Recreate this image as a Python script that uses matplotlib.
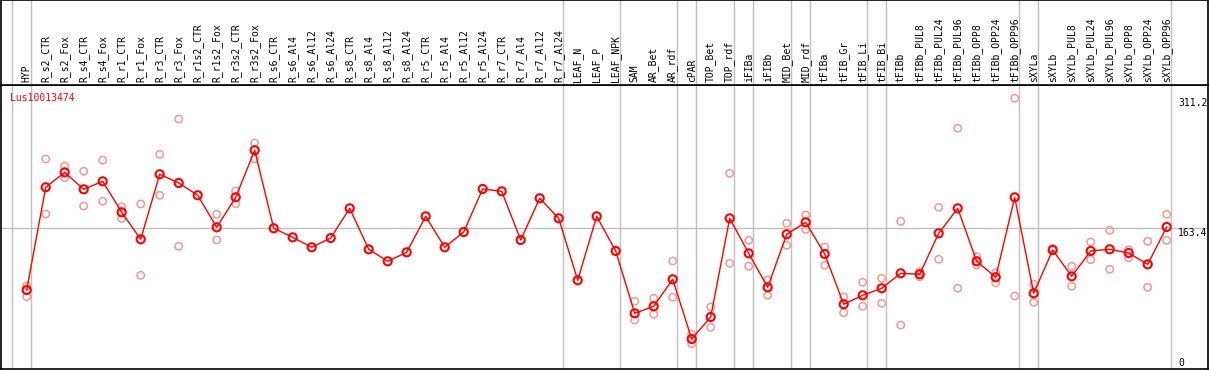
import numpy as np
import matplotlib
matplotlib.use("Agg")
import matplotlib.pyplot as plt
from matplotlib.transforms import blended_transform_factory

gene = "Lus10013474"

samples = ["HYP", "R_s2_CTR", "R_s2_Fox", "R_s4_CTR", "R_s4_Fox", "R_r1_CTR", "R_r1_Fox",
           "R_r3_CTR", "R_r3_Fox", "R_r1s2_CTR", "R_r1s2_Fox", "R_r3s2_CTR", "R_r3s2_Fox",
           "R_s6_CTR", "R_s6_Al4", "R_s6_Al12", "R_s6_Al24", "R_s8_CTR", "R_s8_Al4",
           "R_s8_Al12", "R_s8_Al24", "R_r5_CTR", "R_r5_Al4", "R_r5_Al12", "R_r5_Al24",
           "R_r7_CTR", "R_r7_Al4", "R_r7_Al12", "R_r7_Al24", "LEAF_N", "LEAF_P", "LEAF_NPK",
           "SAM", "AR_Bet", "AR_rdf", "cPAR", "TOP_Bet", "TOP_rdf", "iFIBa", "iFIBb",
           "MID_Bet", "MID_rdf", "tFIBa", "tFIB_Gr", "tFIB_Li", "tFIB_Bi", "tFIBb",
           "tFIBb_PUL8", "tFIBb_PUL24", "tFIBb_PUL96", "tFIBb_OPP8", "tFIBb_OPP24",
           "tFIBb_OPP96", "sXYLa", "sXYLb", "sXYLb_PUL8", "sXYLb_PUL24", "sXYLb_PUL96",
           "sXYLb_OPP8", "sXYLb_OPP24", "sXYLb_OPP96"]

mean_vals = [93.2, 210.0, 227.0, 207.7, 216.8, 181.6, 150.9, 224.8, 214.9, 200.9,
             164.5, 198.6, 252.1, 163.4, 153.1, 141.8, 152.3, 186.1, 139.5, 125.9,
             136.1, 177.0, 141.8, 159.2, 208.1, 205.4, 150.1, 197.5, 174.7, 104.3,
             177.0, 137.6, 66.7, 74.7, 105.4, 37.5, 62.5, 174.7, 134.9, 96.3,
             156.6, 170.2, 134.2, 77.0, 87.2, 95.2, 112.2, 111.1, 157.7, 186.1,
             125.9, 107.7, 198.6, 89.5, 138.7, 108.8, 137.6, 139.5, 135.3, 122.4, 164.9]

nan = np.nan
rep_a = [97.8, 242.2, 234.2, 228.2, 240.8, 187.9, 191.0, 247.5, 287.6, nan,
         179.3, 205.8, 260.4, nan, nan, nan, nan, nan, nan, nan,
         nan, nan, nan, nan, nan, nan, nan, nan, nan, nan,
         nan, nan, 80.4, 83.8, 126.2, 42.9, 73.9, 225.9, 149.7, 104.6,
         169.1, 178.5, 142.1, 85.3, 102.0, 106.5, 171.3, 114.0, 187.2, 277.1,
         131.1, 112.9, 311.2, 99.7, 140.6, 120.2, 147.8, 161.1, 139.0, 148.6, 179.3]
rep_b = [85.6, 179.6, 220.9, 188.7, 194.1, 174.7, 109.9, 200.9, 142.9, nan,
         150.1, 191.3, 242.5, nan, nan, nan, nan, nan, nan, nan,
         nan, nan, nan, nan, nan, nan, nan, nan, nan, nan,
         nan, nan, 59.1, 65.6, 84.9, 32.2, 50.8, 123.6, 120.2, 87.2,
         144.0, 162.2, 121.3, 67.4, 74.7, 78.1, 53.4, 108.3, 128.1, 95.2,
         121.6, 101.5, 86.4, 79.2, nan, 97.4, 127.7, 116.8, 129.9, 96.3, 149.7]

# separators drawn after these sample indices
group_ends = [-1, 0, 28, 31, 34, 35, 37, 38, 40, 41, 44, 45, 52, 53, 60]
axis_labels = [311.2, 163.4, 0]

W, H = 1209, 370
fig = plt.figure(figsize=(W / 100, H / 100), dpi=100)
fig.patch.set_facecolor("white")

def box(x0, y0, x1, y1):
    # pixel box (top-left origin) -> figure fraction
    return [x0 / W, 1 - y1 / H, (x1 - x0) / W, (y1 - y0) / H]

ax = fig.add_axes(box(1, 85, 1208, 369))
axh = fig.add_axes(box(1, 0, 1208, 85), sharex=ax)

x = np.arange(len(samples))
step = 19.0
x0_px = 26.7
ax.set_xlim((1 - x0_px) / step, (1208 - x0_px) / step)
ax.set_ylim(3.4, 326.3)
axh.set_ylim(0, 1)

font = "DejaVu Sans Mono"
grey = "#c0c0c0"

for a in (ax, axh):
    a.set_xticks([])
    a.set_yticks([])
    for s in a.spines.values():
        s.set_color("black")
        s.set_linewidth(1.2)
    for g in group_ends:
        a.axvline(g + 0.2, color=grey, lw=1, zorder=1)

ax.axhline(axis_labels[1], color=grey, lw=1, zorder=1)

# header labels
for xi, name in zip(x, samples):
    axh.text(xi, 0.035, name, rotation=90, ha="center", va="bottom",
             fontsize=7, family=font)

# replicates
ax.scatter(x, rep_a, s=28, facecolors="none", edgecolors="#f09898", linewidths=1.1, zorder=2)
ax.scatter(x, rep_b, s=28, facecolors="none", edgecolors="#f09898", linewidths=1.1, zorder=2)
# mean
ax.plot(x, mean_vals, color="red", lw=1, zorder=3)
ax.scatter(x, mean_vals, s=34, facecolors="none", edgecolors="red", linewidths=1.5, zorder=4)

ax.text(0.0075, 0.955, gene, transform=ax.transAxes, color="red", fontsize=7,
        family=font, ha="left", va="center")

trans = blended_transform_factory(ax.transData, ax.transData)
lab_x = (1178 - x0_px) / step
for v in axis_labels:
    yv = max(v, 15.5)
    ax.text(lab_x, yv, f"{v:g}", transform=trans, fontsize=7, family=font,
            ha="left", va="top", clip_on=False)

fig.savefig("out.png", dpi=100)
